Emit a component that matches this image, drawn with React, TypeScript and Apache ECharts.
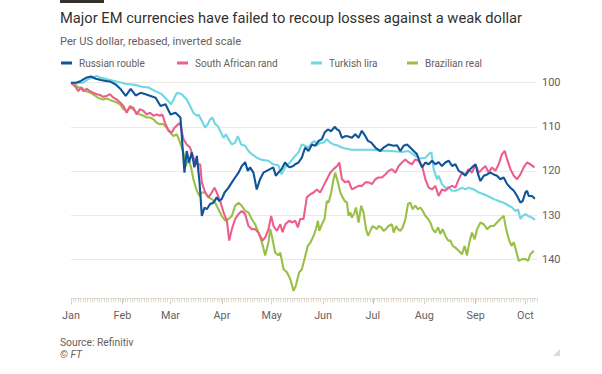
import React, { useEffect, useRef } from "react";
import * as echarts from "echarts";

const TITLE = "Major EM currencies have failed to recoup losses against a weak dollar";
const SUBTITLE = "Per US dollar, rebased, inverted scale";
const SOURCE = "Source: Refinitiv";
const COPYRIGHT = "© FT";

const SERIES_NAMES = ["Russian rouble", "South African rand", "Turkish lira", "Brazilian real"];
const MONTH_LABELS = ["Jan", "Feb", "Mar", "Apr", "May", "Jun", "Jul", "Aug", "Sep", "Oct"];
const Y_TICKS = [100, 110, 120, 130, 140];

// [days since 1 Jan 2020, index value (rebased to 100)]
const rouble: [number, number][] = [
  [0, 100], [3, 100], [6, 99.6], [9, 98.9], [12, 98.6], [15, 99.1], [18, 99.4], [21, 99.6], [24, 99.8], [27, 100.4],
  [30, 101.5], [33, 103], [36, 101.4], [39, 102.9], [42, 102.3], [45, 102.6], [48, 103], [51, 103.4], [54, 105.3], [57, 104.9],
  [60, 107.2], [63, 106.8], [66, 107.9], [68.4, 120.4], [69.8, 115.5], [71.2, 118.1], [72.8, 115.8], [74.4, 119.2], [75.9, 116.6], [77.5, 122.6],
  [78.9, 130.2], [80.5, 128.3], [81.9, 128.7], [83.9, 127.5], [85.9, 127.2], [87.9, 126], [89.3, 126.8], [90.9, 126.4], [92.6, 124.9], [95, 123.8],
  [97, 122.6], [99, 121.5], [101, 120.4], [103, 118.9], [105, 118], [106.6, 120], [108, 119.2], [110, 120.4], [112, 124.2], [114, 121.9],
  [116, 120.4], [118, 120], [120, 119.6], [122, 119.2], [123.5, 121.1], [125, 120.4], [127, 119.6], [129, 118.1], [130.8, 118.9], [132, 119.2],
  [134, 118.9], [135.2, 118.5], [137.2, 118.1], [139.2, 117], [141.2, 114.7], [143.2, 115.5], [145.3, 114], [147.3, 114.3], [149.3, 113.2], [151.3, 112.8],
  [152.9, 111.3], [154.9, 110.6], [156.9, 111], [159, 110], [160.4, 110.6], [161.8, 110.9], [163.4, 112.5], [165.4, 112.1], [167.4, 112.2], [169.4, 112.5],
  [171.4, 111.7], [173.4, 112.5], [175.4, 110.9], [177.5, 112.1], [179.1, 113.2], [181.1, 113.6], [183.5, 114.7], [186.5, 115.5], [188.5, 114.7], [191.5, 114],
  [194.6, 114.3], [196.6, 114.2], [198.6, 115.5], [200.6, 114.3], [202.6, 114], [204.6, 114.7], [206.6, 115.5], [208.6, 116.2], [210, 117.7], [211.7, 119.2],
  [213.7, 118.1], [215.7, 118.5], [217.7, 117.7], [219.7, 118.5], [221.7, 118], [223.7, 118.9], [225.7, 118.1], [227.8, 117.7], [229.8, 118.9], [231.8, 118.5],
  [233.8, 120], [235.8, 120.4], [237.8, 121.1], [239.8, 120], [241.8, 119.2], [243.9, 118.5], [245.5, 120.8], [246.9, 122.3], [248.9, 121.1], [250.9, 120.8],
  [252.9, 120.4], [254.9, 120.8], [256.9, 121.1], [258.9, 121.9], [260.9, 121.5], [263, 123], [265, 123.8], [267, 124.5], [269, 125.7], [271, 127.2],
  [272.4, 126.8], [274, 124.9], [275, 124.5], [276, 125.7], [278, 125.7], [279.7, 126.3],
];

const rand: [number, number][] = [
  [0, 100], [2.4, 100.8], [4.4, 101.9], [6, 101.1], [7.4, 101.9], [9.5, 101.4], [11.5, 101.9], [13.5, 102.3], [15.5, 102.6], [17.5, 102.8],
  [19.5, 103.2], [21.5, 103], [23.5, 102.6], [25.6, 103.4], [27.6, 103.8], [29.6, 104.5], [31.6, 105.3], [33.6, 106.8], [35.6, 105.3], [37.6, 105.7],
  [39.6, 107.2], [41.6, 106], [43.7, 106.4], [45.7, 107.2], [47.7, 106.8], [49.7, 107.5], [51.7, 107.2], [53.7, 107.5], [55.1, 107.2], [56.7, 109.1],
  [58.8, 110.9], [60.8, 111.3], [62.4, 110.2], [64.8, 109.4], [65.8, 109.1], [67.8, 112.8], [69.8, 114], [71.8, 114.7], [73.8, 117], [75.9, 118.5],
  [77.9, 118.5], [78.9, 122.6], [80.9, 124.9], [82.9, 126], [84.9, 124.9], [86.5, 123.8], [87.9, 124.9], [89.9, 126.8], [92, 129.4], [94, 131.3],
  [95.4, 135.8], [97, 133.2], [99, 130.9], [101, 129.8], [103, 129.1], [105, 129.8], [107, 132.5], [109, 133.2], [111, 133.2], [113, 134],
  [115.5, 135.8], [117.1, 135.1], [119.1, 133.2], [120.7, 130.2], [122.1, 132.5], [124.1, 133.6], [126.2, 132.1], [127.6, 133.9], [129.2, 132.1], [131.6, 131.3],
  [133.6, 131.7], [135.2, 131.3], [136.8, 132.8], [138.2, 130.9], [140.2, 130.9], [142.2, 126], [144.3, 125.3], [146.3, 124.9], [148.3, 124.2], [150.3, 124.9],
  [152.3, 123.4], [154.3, 121.9], [156.3, 120.4], [158.3, 119.6], [160.4, 118.9], [161.8, 118.1], [163.4, 121.9], [165.4, 122.6], [167.4, 122.3], [169.4, 124.2],
  [171.4, 123.8], [173.4, 123.4], [175.4, 123.4], [177.5, 122.6], [179.5, 122.6], [181.5, 123], [183.5, 121.9], [185.5, 121.5], [187.5, 121.5], [189.5, 120.8],
  [191.5, 120], [193.5, 119.6], [195.6, 120.4], [197.6, 118.9], [199.6, 118.1], [201.6, 117.4], [203.6, 118.1], [205.6, 118.5], [207.6, 117.4], [209.6, 117.7],
  [211.7, 118.9], [213.7, 121.9], [215.7, 123.8], [217.7, 124.2], [219.7, 123.4], [221.7, 125.7], [223.7, 124.2], [225.7, 124.5], [227.8, 123.8], [229.8, 123.4],
  [231.8, 123.8], [233.8, 121.9], [235.8, 120.4], [237.8, 120.8], [239.8, 119.6], [241.8, 120.4], [243.9, 118.5], [245.9, 120.4], [247.9, 119.6], [249.9, 118.9],
  [251.9, 120.4], [253.9, 119.2], [255.9, 120], [257.9, 118.5], [259.9, 116.2], [261.6, 115.5], [263, 117.4], [265, 119.6], [267, 121.1], [269, 121.9],
  [271, 120.8], [273, 119.2], [275, 118.1], [277, 118.5], [279.5, 119.2],
];

const lira: [number, number][] = [
  [0, 100], [3, 100.1], [7.4, 100], [10, 99.3], [13, 98.8], [15.5, 98.5], [18, 98.9], [22.5, 99.3], [26, 99.6], [30.6, 100],
  [33, 100.3], [36.6, 100.4], [39, 100.5], [42.7, 100.9], [46.7, 101.1], [50.7, 101.9], [54.7, 102.6], [57.7, 103.8], [60.4, 104.9], [63.8, 102.3],
  [66.8, 102.6], [69.8, 103.8], [71.8, 105.3], [73.8, 106.8], [75.9, 107.5], [76.9, 107.2], [78.9, 108.7], [80.9, 110.2], [82.5, 109.4], [83.9, 108.3],
  [85.3, 107.9], [86.9, 109.4], [88.5, 109.8], [89.9, 110.9], [92, 112.5], [93.4, 111.7], [95, 112.8], [97, 114], [99, 113.6], [100.6, 112.1],
  [102.6, 114], [105, 114.3], [107, 115.5], [109, 116.2], [112, 117], [115, 117.5], [119, 117.7], [122, 118.5], [125, 118.7], [127, 120.8],
  [129, 119.2], [132, 118.1], [135.2, 116.6], [137.2, 115.8], [139.2, 114], [141.2, 114.3], [143.2, 114.7], [145.3, 113.6], [146.9, 113.2], [148.3, 114.2],
  [150.3, 113.6], [152.3, 113.6], [154.3, 112.8], [156.3, 113.6], [158.3, 114], [160.4, 114.2], [163.4, 114.7], [165.4, 114.9], [169.4, 115.2], [175.4, 115.2],
  [181.5, 115.2], [187.5, 115.4], [193.5, 115.5], [199.6, 115.7], [203.6, 115.5], [207.6, 116.6], [210.7, 117.2], [213.7, 117], [215.7, 116.2], [217.3, 115.8],
  [218.7, 119.6], [220.7, 121.9], [221.7, 121.1], [223.7, 123], [225.7, 123.8], [227.8, 123.8], [229.8, 124.5], [231.8, 124.5], [233.8, 124.2], [235.8, 123.8],
  [237.8, 124.2], [239.8, 123.8], [242.8, 124.2], [245.9, 124.9], [248.9, 125.3], [251.9, 125.8], [254.9, 126.4], [257.9, 126.8], [260.9, 127.2], [264, 127.9],
  [266, 128.3], [268, 129.1], [269.6, 128.7], [271, 130.9], [272.4, 130.2], [274, 129.8], [276, 130.3], [278, 130.6], [279.7, 131.1],
];

const real: [number, number][] = [
  [0, 100], [2.4, 100.4], [4.4, 101.1], [6.4, 101.1], [8.5, 101.9], [10.5, 102.1], [12.5, 102.4], [15.5, 103.2], [17.5, 103.6], [19.5, 103.8],
  [21.5, 103.6], [23.5, 103.9], [25.6, 104.2], [27.6, 104.5], [29.6, 104.9], [31.6, 106], [33.6, 106.4], [35.6, 105.7], [37.6, 106], [39.6, 106.8],
  [41.6, 107.2], [43.7, 107.5], [45.7, 107.9], [47.7, 107.9], [49.7, 108.3], [51.7, 109.1], [53.7, 109.4], [55.7, 109.4], [57.7, 110.2], [59.8, 111.3],
  [61.8, 112.1], [63.8, 111.7], [65.8, 113.6], [67.8, 115.8], [69.2, 118.9], [70.8, 117.4], [72.4, 119.2], [73.8, 121.9], [75.9, 124.5], [77.5, 125.7],
  [78.9, 124.9], [80.9, 124.9], [82.9, 126], [84.9, 126.4], [86.9, 127.2], [88.9, 128.7], [90.9, 130.2], [93, 131.3], [95, 130.9], [97, 130.2],
  [99, 127.9], [101, 127.2], [103, 127.9], [105, 129.1], [107, 129.4], [109, 130.9], [111, 132.1], [113.1, 134], [115.1, 136.2], [117.1, 139.2],
  [119.1, 136.2], [120.1, 133.2], [121.1, 134.7], [123.1, 138.5], [125.1, 139.2], [126.2, 138.5], [128.2, 142.3], [130.2, 143], [132.2, 144.5], [134.2, 147.2],
  [135.6, 146], [137.6, 143], [139.2, 142.3], [140.8, 140], [142.8, 137], [144.3, 136.3], [146.3, 134.7], [147.7, 133.2], [148.9, 131.3], [149.7, 133.6],
  [151.3, 132.1], [152.9, 130.9], [154.3, 126.8], [155.3, 127.2], [156.9, 124.9], [158.3, 121.9], [159.3, 120.4], [161, 122.6], [162.4, 124.9], [163.4, 125.7],
  [165, 126.8], [166.4, 127.2], [167.4, 130.2], [168.4, 129.4], [169.4, 130.6], [171, 129.4], [171.8, 128.3], [173.4, 131.7], [175, 127.9], [176.4, 129.4],
  [177.9, 133.2], [179.1, 134.7], [180.5, 133.6], [181.9, 132.5], [183.1, 132.8], [184.5, 133.2], [185.5, 132.5], [187.1, 132.8], [188.5, 133.6], [189.9, 133.2],
  [191.5, 132.5], [193.5, 132.1], [194.6, 134], [196, 132.5], [197.2, 133.2], [198.6, 133.6], [200, 132.8], [201.6, 131], [203.2, 127.5], [204.6, 127.2],
  [206, 128.7], [207.6, 127.9], [209.2, 128.7], [210.7, 128.3], [212.1, 129.1], [213.7, 130.2], [215.3, 130.9], [216.7, 131.7], [218.1, 133.2], [219.7, 134],
  [221.3, 132.8], [222.7, 134.3], [224.1, 133.2], [225.7, 134.7], [227.4, 135.8], [228.8, 135.8], [230.2, 137], [231.8, 137.4], [233.8, 138.1], [235.8, 138.9],
  [237.4, 137], [238.8, 139.2], [240.2, 136.2], [241.8, 134], [243.4, 135.5], [244.9, 133.2], [246.9, 131.7], [248.9, 132.1], [250.9, 133.2], [252.9, 132.5],
  [254.9, 132.5], [256.9, 131.7], [258.9, 130.9], [260.9, 130.2], [262.4, 133.2], [264, 135.5], [265.6, 137], [267, 136.2], [268.4, 138.1], [270, 140.4],
  [272, 140], [274, 140], [275.6, 140.4], [277, 138.9], [279.1, 138.1],
];

const SERIES_DATA = [rouble, rand, lira, real];
const COLORS = ["#0f5499", "#eb5e8d", "#6fd6e3", "#99bf47"];

const DAY_MS = 86400000;
const START = Date.UTC(2020, 0, 1);
// day offset (from 1 Jan 2020) of the first day of each month
const MONTH_START_DAYS = MONTH_LABELS.map((_, i) => Math.round((Date.UTC(2020, i, 1) - START) / DAY_MS));
const X_MAX_DAY = 281;

const FONT = "Roboto, 'Noto Sans', sans-serif";
const GREY = "#66605c";

export default function App() {
  const ref = useRef<HTMLDivElement>(null);

  useEffect(() => {
    if (!ref.current) return;
    const chart = echarts.init(ref.current, null, { renderer: "svg" });
    const legendLefts = [61, 177, 311, 407];
    const drawOrder = [3, 2, 1, 0];
    chart.setOption({
      animation: false,
      backgroundColor: "#ffffff",
      textStyle: { fontFamily: FONT },
      title: [
        { text: TITLE, left: 60, top: 10.5, padding: 0, textStyle: { fontSize: 14.7, fontWeight: "normal", color: "#33302e", fontFamily: FONT } },
        { text: SUBTITLE, left: 60, top: 35.5, padding: 0, textStyle: { fontSize: 11.1, fontWeight: "normal", color: GREY, fontFamily: FONT } },
        { text: SOURCE, left: 60, top: 337, padding: 0, textStyle: { fontSize: 10.3, fontWeight: "normal", color: GREY, fontFamily: FONT } },
        { text: COPYRIGHT, left: 60, top: 349, padding: 0, textStyle: { fontSize: 10.3, fontWeight: "normal", fontStyle: "italic", color: GREY, fontFamily: FONT } },
      ],
      legend: SERIES_NAMES.map((n, i) => ({
        data: [{ name: n, icon: "rect" }],
        left: legendLefts[i],
        top: 58,
        padding: 0,
        itemWidth: 11,
        itemHeight: 3,
        itemGap: 0,
        selectedMode: false,
        textStyle: { fontSize: 10, color: GREY, fontFamily: FONT, padding: [0, 0, 0, 2] },
      })),
      grid: { left: 71, right: 65, top: 38.6, bottom: 70.8, containLabel: false },
      xAxis: [
        {
          type: "value",
          min: 0,
          max: X_MAX_DAY,
          position: "bottom",
          offset: -5,
          axisLine: { show: true, lineStyle: { color: "#e0dad3", width: 1 } },
          axisTick: { show: true, customValues: MONTH_START_DAYS, length: 6, lineStyle: { color: "#d0c9c2" } },
          axisLabel: {
            customValues: MONTH_START_DAYS,
            formatter: (v: number) => MONTH_LABELS[MONTH_START_DAYS.indexOf(Math.round(v))] ?? "",
            color: GREY,
            fontSize: 10.8,
            margin: 12,
            fontFamily: FONT,
          },
          splitLine: { show: false },
        },
        {
          type: "value",
          min: 0,
          max: 198,
          interval: 1,
          position: "bottom",
          offset: -5,
          axisLine: { show: false },
          axisTick: { show: true, length: 4, lineStyle: { color: "#e0dad3" } },
          axisLabel: { show: false },
          splitLine: { show: false },
        },
      ],
      yAxis: {
        type: "value",
        inverse: true,
        min: 90,
        max: 150,
        interval: 10,
        position: "right",
        axisLine: { show: false },
        axisTick: { show: false },
        axisLabel: {
          formatter: (v: number) => (Y_TICKS.includes(v) ? String(v) : ""),
          color: GREY,
          fontSize: 11,
          margin: 5,
          fontFamily: FONT,
        },
        splitLine: { show: true, showMinLine: false, showMaxLine: false, lineStyle: { color: "#eee8e2", width: 1 } },
      },
      series: drawOrder.map((i) => ({
        name: SERIES_NAMES[i],
        type: "line",
        xAxisIndex: 0,
        showSymbol: false,
        symbol: "none",
        color: COLORS[i],
        lineStyle: { width: 2.1, color: COLORS[i] },
        data: SERIES_DATA[i],
      })),
      graphic: [
        { type: "rect", left: 60, top: 0, shape: { width: 44, height: 3 }, style: { fill: "#33302e" } },
        { type: "polygon", shape: { points: [[560, 349], [560, 356], [553, 356]] }, style: { fill: "#dcdcdc" } },
      ],
    });
    return () => chart.dispose();
  }, []);

  return <div ref={ref} style={{ position: "absolute", left: 0, top: 0, width: 602, height: 374 }} />;
}
